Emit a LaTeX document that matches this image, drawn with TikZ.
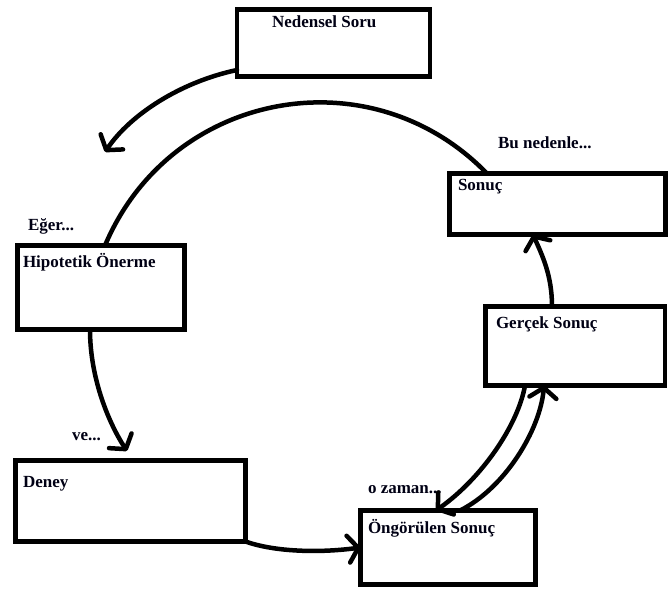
\documentclass[tikz,border=0pt]{standalone}
\usepackage{fontspec}
\setmainfont{Liberation Serif}
\usetikzlibrary{arrows.meta,calc}
\tikzset{
  box/.style={draw=black, line width=4.5pt, inner sep=0pt, outer sep=0pt, fill=white},
  lbl/.style={anchor=base west, inner sep=0pt, outer sep=0pt, text=black!92!blue,
              font=\fontsize{17}{20}\selectfont\bfseries},
  conn/.style={line width=4.5pt, line cap=round, line join=round},
  tip/.style={-{Straight Barb[length=10pt,width=27pt,round]}}
}
\begin{document}
\begin{tikzpicture}[x=1pt,y=-1pt]
\useasboundingbox (0,0) rectangle (668,590);
% boxes
\node[box, minimum width=193pt, minimum height=67pt] (ns) at (333.5,43) {};
\node[box, minimum width=167pt, minimum height=84pt] (hip) at (101,287.5) {};
\node[box, minimum width=230pt, minimum height=81pt] (deney) at (130.5,501) {};
\node[box, minimum width=175pt, minimum height=74pt] (ong) at (448,547.5) {};
\node[box, minimum width=179.5pt, minimum height=79pt] (gercek) at (575.25,346) {};
\node[box, minimum width=216pt, minimum height=61pt] (sonuc) at (557.5,204) {};
% texts
\node[lbl] (tns) at (272,27) {Nedensel Soru};
\node[lbl] (thip) at (23,267) {Hipotetik Önerme};
\node[lbl] (tdeney) at (23,487) {Deney};
\node[lbl] (tong) at (368,533) {Öngörülen Sonuç};
\node[lbl] (tgercek) at (496,328) {Gerçek Sonuç};
\node[lbl] (tsonuc) at (458,190) {Sonuç};
\node[lbl] (lbu) at (498,148) {Bu nedenle...};
\node[lbl] (leger) at (28,230) {Eğer...};
\node[lbl] (lve) at (72,440) {ve...};
\node[lbl] (loz) at (368,493) {o zaman...};
% free ends
\coordinate (nsend) at (105,152);
\coordinate (veend) at (127,451);
% connectors
\draw[conn,tip] ($(ns.south west)+(0,-6.5)$) .. controls (180,82) and (130,115) .. (nsend);
\draw[conn] ($(sonuc.north west)+(37.5,0)$) .. controls (370.2,53.3) and (170.2,90.9) .. ($(hip.north west)+(87.5,0)$);
\draw[conn,tip] ($(hip.south west)+(72.5,0)$) .. controls (90,380) and (110,425) .. (veend);
\draw[conn,tip] (deney.south east) .. controls (275,552) and (320,553) .. (ong.west);
\draw[conn,tip] ($(gercek.south west)+(39.5,0)$) .. controls (518,425) and (482,478) .. ($(ong.north west)+(75.5,0)$);
\draw[conn,tip] ($(ong.north west)+(99.5,0)$) .. controls (505,488) and (540,430) .. ($(gercek.south west)+(58.5,0)$);
\draw[conn,tip] ($(gercek.north west)+(66.5,0)$) .. controls (552,275) and (542,255) .. ($(sonuc.south west)+(83.5,0)$);
\end{tikzpicture}
\end{document}
